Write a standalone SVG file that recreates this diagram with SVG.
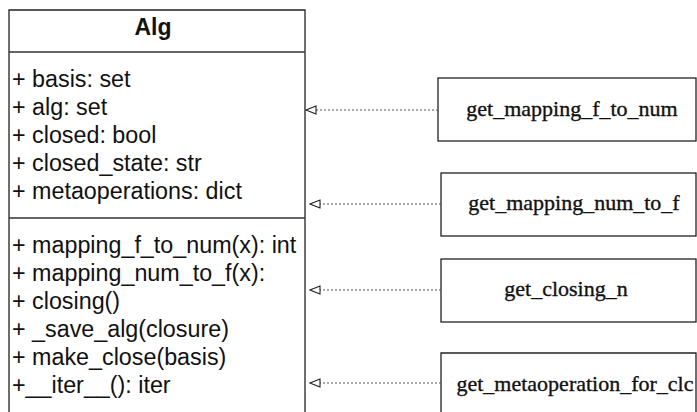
<svg xmlns="http://www.w3.org/2000/svg" width="697" height="412" viewBox="0 0 697 412">
<defs>
<marker id="tri" markerUnits="userSpaceOnUse" markerWidth="12" markerHeight="10" refX="10.5" refY="4.5" orient="auto" viewBox="0 0 12 10">
<path d="M0.5,0.5 L10.5,4.5 L0.5,8.5 Z" fill="#fff" stroke="#222" stroke-width="1.1"/>
</marker>
</defs>
<style>
.cls{font-family:"Liberation Sans",Arial,sans-serif;font-size:23.3px;fill:#111}
.title{font-family:"Liberation Sans",Arial,sans-serif;font-size:23px;font-weight:bold;fill:#111}
.fn{font-family:"Liberation Serif","Times New Roman",serif;font-size:22px;fill:#111;stroke:#111;stroke-width:0.35}
.box{fill:#fff;stroke:#222;stroke-width:1.3}
.sep{stroke:#333;stroke-width:1.3}
.dep{stroke:#555;stroke-width:1.2;stroke-dasharray:2 2;fill:none}
</style>
<rect width="697" height="412" fill="#fff"/>
<g id="Alg">
<path class="box" d="M9,420 L9,10 L305,10 L305,420"/>
<line class="sep" x1="9" y1="52" x2="305" y2="52"/>
<line class="sep" x1="9" y1="218" x2="305" y2="218"/>
<text class="title" x="153" y="35" text-anchor="middle">Alg</text>
<text class="cls" x="12" y="87">+ basis: set</text>
<text class="cls" x="12" y="115">+ alg: set</text>
<text class="cls" x="12" y="143">+ closed: bool</text>
<text class="cls" x="12" y="171">+ closed_state: str</text>
<text class="cls" x="12" y="199">+ metaoperations: dict</text>
<text class="cls" x="12" y="253">+ mapping_f_to_num(x): int</text>
<text class="cls" x="12" y="281">+ mapping_num_to_f(x):</text>
<text class="cls" x="12" y="309">+ closing()</text>
<text class="cls" x="12" y="337">+ _save_alg(closure)</text>
<text class="cls" x="12" y="365">+ make_close(basis)</text>
<text class="cls" x="12" y="393">+__iter__(): iter</text>
</g>
<g id="get_mapping_f_to_num">
<rect class="box" x="438" y="78" width="258" height="63"/>
<text class="fn" x="572" y="116" text-anchor="middle">get_mapping_f_to_num</text>
</g>
<g id="get_mapping_num_to_f">
<rect class="box" x="441" y="173" width="255" height="63"/>
<text class="fn" x="574" y="210" text-anchor="middle">get_mapping_num_to_f</text>
</g>
<g id="get_closing_n">
<rect class="box" x="441" y="259" width="255" height="63"/>
<text class="fn" x="566" y="296" text-anchor="middle">get_closing_n</text>
</g>
<g id="get_metaoperation_for_clc">
<path class="box" d="M441,420 L441,353 L696,353 L696,420"/>
<text class="fn" x="575" y="391" text-anchor="middle">get_metaoperation_for_clc</text>
</g>
<g id="connectors">
<line class="dep" x1="438" y1="110" x2="306" y2="110" marker-end="url(#tri)"/>
<line class="dep" x1="441" y1="204" x2="310" y2="204" marker-end="url(#tri)"/>
<line class="dep" x1="441" y1="290" x2="310" y2="290" marker-end="url(#tri)"/>
<line class="dep" x1="441" y1="383" x2="310" y2="383" marker-end="url(#tri)"/>
</g>
</svg>
